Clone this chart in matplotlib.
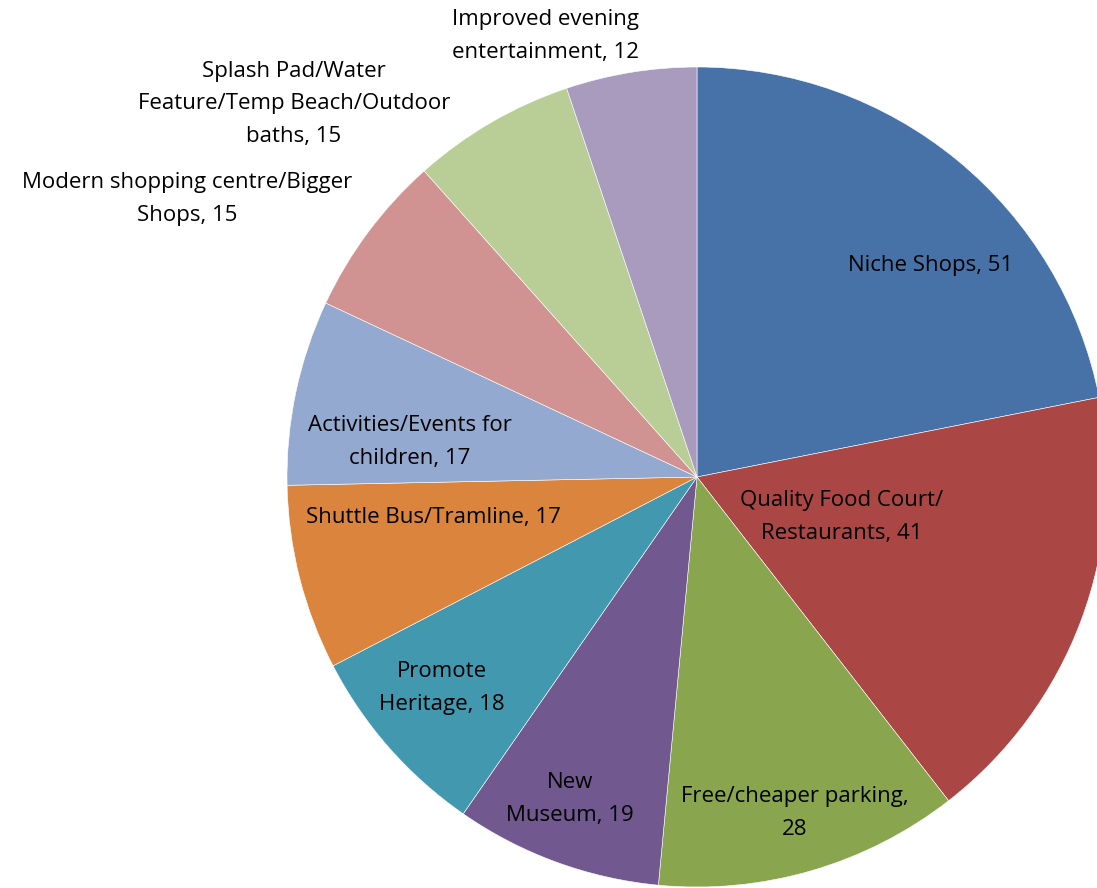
import matplotlib.pyplot as plt

# Values (clockwise from 12 o'clock)
labels = ["Niche Shops", "Quality Food Court/\nRestaurants", "Free/cheaper parking,\n",
          "New\nMuseum", "Promote\nHeritage", "Shuttle Bus/Tramline",
          "Activities/Events for\nchildren", "Modern shopping centre/Bigger\nShops",
          "Splash Pad/Water\nFeature/Temp Beach/Outdoor\nbaths", "Improved evening\nentertainment"]
values = [51, 41, 28, 19, 18, 17, 17, 15, 15, 12]
colors = ["#4672A8", "#AA4644", "#89A54E", "#71588F", "#4198AF",
          "#DB843D", "#93A9CF", "#D19392", "#B9CD96", "#A99BBD"]

# label centres in pixel coordinates (x, y from top)
label_pos = [(931, 265), (842, 517), (795, 813), (570, 799), (442, 688),
             (433, 517), (410, 442), (187, 199), (294, 104), (545, 36)]

W, H = 1097, 888
fig = plt.figure(figsize=(W / 100, H / 100), dpi=100)
ax = fig.add_axes([0, 0, 1, 1])

cx, cy, r = 697, H - 477, 410
ax.pie(values, colors=colors, startangle=90, counterclock=False,
       center=(cx, cy), radius=r, frame=True,
       wedgeprops=dict(edgecolor="white", linewidth=0.4))
ax.set_xlim(0, W)
ax.set_ylim(0, H)
ax.set_aspect("equal")
ax.axis("off")

for lab, v, (px, py) in zip(labels, values, label_pos):
    if lab.endswith("\n"):
        txt = lab + str(v)
    else:
        txt = lab + ", " + str(v)
    ax.text(px, H - py, txt, ha="center", va="center", fontsize=16,
            family="Open Sans", linespacing=1.72, color="black")

fig.savefig("out.png", dpi=100)
